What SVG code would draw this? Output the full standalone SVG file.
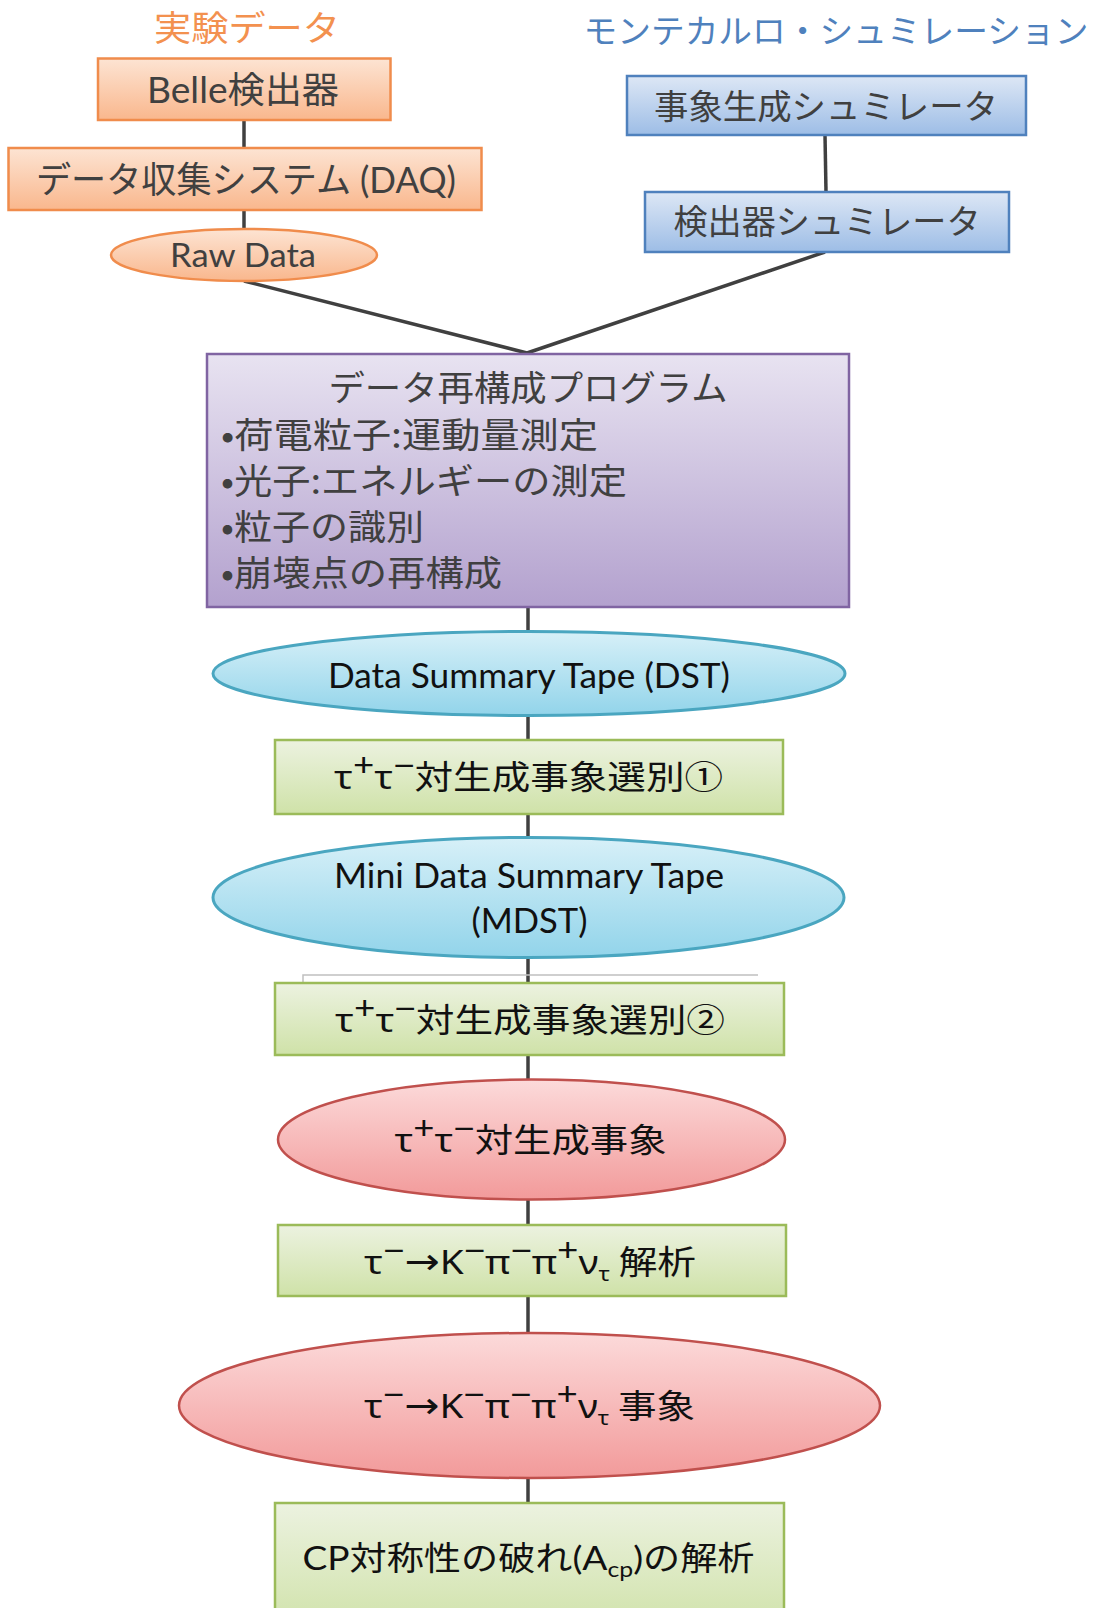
<svg xmlns="http://www.w3.org/2000/svg" width="1099" height="1608" viewBox="0 0 1099 1608">
<style>
.jp{font-family:"Noto Sans CJK JP","Noto Sans",sans-serif;}
.la{font-family:"Lato","Noto Sans CJK JP",sans-serif;}
.gr{font-family:"Noto Sans","DejaVu Sans",sans-serif;}
.ar{font-family:"DejaVu Sans",sans-serif;}
.dk{fill:#404040;}
.bk{fill:#111;}
.mid{text-anchor:middle;}
.conn{stroke:#404040;stroke-width:3.5;fill:none;stroke-linecap:butt;}
.or{fill:url(#gOr);stroke:#f08c4c;stroke-width:2.5;}
.bl{fill:url(#gBl);stroke:#4f81bd;stroke-width:2.5;}
.pu{fill:url(#gPu);stroke:#8064a2;stroke-width:2.5;}
.cy{fill:url(#gCy);stroke:#4aa6c0;stroke-width:3;}
.gn{fill:url(#gGn);stroke:#9bbb59;stroke-width:2.5;}
.pk{fill:url(#gPk);stroke:#c0504d;stroke-width:2.5;}
</style>
<defs>
<linearGradient id="gOr" x1="0" y1="0" x2="0" y2="1"><stop offset="0" stop-color="#fde4d3"/><stop offset="1" stop-color="#f9b78d"/></linearGradient>
<linearGradient id="gBl" x1="0" y1="0" x2="0" y2="1"><stop offset="0" stop-color="#dde7f5"/><stop offset="1" stop-color="#9dbde6"/></linearGradient>
<linearGradient id="gPu" x1="0" y1="0" x2="0" y2="1"><stop offset="0" stop-color="#e8e3f1"/><stop offset="1" stop-color="#b3a1ce"/></linearGradient>
<linearGradient id="gCy" x1="0" y1="0" x2="0" y2="1"><stop offset="0" stop-color="#d7f0f8"/><stop offset="1" stop-color="#92d4ea"/></linearGradient>
<linearGradient id="gGn" x1="0" y1="0" x2="0" y2="1"><stop offset="0" stop-color="#ecf2e0"/><stop offset="1" stop-color="#cfe2a8"/></linearGradient>
<linearGradient id="gPk" x1="0" y1="0" x2="0" y2="1"><stop offset="0" stop-color="#fcdada"/><stop offset="1" stop-color="#f29a9a"/></linearGradient>
</defs>
<rect width="1099" height="1608" fill="#ffffff"/>

<g id="connectors">
<line class="conn" x1="244" y1="120" x2="244" y2="148"/>
<line class="conn" x1="244" y1="210" x2="244" y2="229"/>
<line class="conn" x1="244" y1="281" x2="527" y2="353"/>
<line class="conn" x1="825" y1="135" x2="826" y2="192"/>
<line class="conn" x1="825" y1="252" x2="527" y2="353"/>
<line class="conn" x1="528" y1="607" x2="528" y2="632"/>
<line class="conn" x1="528" y1="715" x2="528" y2="740"/>
<line class="conn" x1="528" y1="814" x2="528" y2="838"/>
<line class="conn" x1="528" y1="957" x2="528" y2="983"/>
<line class="conn" x1="528" y1="1055" x2="528" y2="1080"/>
<line class="conn" x1="528" y1="1199" x2="528" y2="1225"/>
<line class="conn" x1="528" y1="1296" x2="528" y2="1333"/>
<line class="conn" x1="528" y1="1478" x2="528" y2="1503"/>
<polyline points="303,983 303,975 758,975" fill="none" stroke="#c0c0c0" stroke-width="1.5"/>
</g>

<g id="title-exp">
<text class="jp mid" x="247" y="41" font-size="35" fill="#f3914f" textLength="186" lengthAdjust="spacingAndGlyphs">実験データ</text>
</g>
<g id="title-mc">
<text class="jp mid" x="836" y="43" font-size="33" fill="#4f81bd" textLength="505" lengthAdjust="spacingAndGlyphs">モンテカルロ・シュミレーション</text>
</g>

<g id="belle">
<rect class="or" x="98" y="58.5" width="292.5" height="61.5"/>
<text class="la dk mid" x="243" y="103" font-size="36" textLength="192" lengthAdjust="spacingAndGlyphs">Belle検出器</text>
</g>
<g id="daq">
<rect class="or" x="8.5" y="148" width="473" height="62"/>
<text class="la dk mid" x="246" y="193" font-size="36" textLength="420" lengthAdjust="spacingAndGlyphs">データ収集システム (DAQ)</text>
</g>
<g id="rawdata">
<ellipse class="or" cx="244" cy="255" rx="133" ry="26"/>
<text class="la dk mid" x="243" y="267" font-size="32" textLength="146" lengthAdjust="spacingAndGlyphs">Raw Data</text>
</g>

<g id="evgen">
<rect class="bl" x="627" y="76" width="399" height="59"/>
<text class="jp dk mid" x="826" y="118.5" font-size="34" textLength="344" lengthAdjust="spacingAndGlyphs">事象生成シュミレータ</text>
</g>
<g id="detsim">
<rect class="bl" x="645" y="192" width="364" height="60"/>
<text class="jp dk mid" x="827" y="234" font-size="34" textLength="307" lengthAdjust="spacingAndGlyphs">検出器シュミレータ</text>
</g>

<g id="recon">
<rect class="pu" x="207" y="354" width="642" height="253"/>
<text class="jp dk" font-size="35"><tspan x="528" y="401" text-anchor="middle" textLength="399" lengthAdjust="spacingAndGlyphs">データ再構成プログラム</tspan><tspan x="221" y="448" textLength="377" lengthAdjust="spacingAndGlyphs">•荷電粒子:運動量測定</tspan><tspan x="221" y="494" textLength="406" lengthAdjust="spacingAndGlyphs">•光子:エネルギーの測定</tspan><tspan x="221" y="540" textLength="203" lengthAdjust="spacingAndGlyphs">•粒子の識別</tspan><tspan x="221" y="586" textLength="281" lengthAdjust="spacingAndGlyphs">•崩壊点の再構成</tspan></text>
</g>

<g id="dst">
<ellipse class="cy" cx="529" cy="673.5" rx="316" ry="42"/>
<text class="la bk mid" x="529" y="688" font-size="34" textLength="402" lengthAdjust="spacingAndGlyphs">Data Summary Tape (DST)</text>
</g>

<g id="sel1">
<rect class="gn" x="275" y="740" width="508" height="74"/>
<text class="jp bk mid" x="528.5" y="789" font-size="33" textLength="389" lengthAdjust="spacingAndGlyphs"><tspan class="gr">τ</tspan><tspan class="gr" font-size="32" dy="-12">+</tspan><tspan class="gr" dy="12">τ</tspan><tspan class="gr" font-size="32" dy="-12">−</tspan><tspan dy="12">対生成事象選別①</tspan></text>
</g>

<g id="mdst">
<ellipse class="cy" cx="528.5" cy="897.5" rx="315.5" ry="60"/>
<text class="la bk mid" x="529" y="888" font-size="34" textLength="390" lengthAdjust="spacingAndGlyphs">Mini Data Summary Tape</text>
<text class="la bk mid" x="529.5" y="933" font-size="34" textLength="116" lengthAdjust="spacingAndGlyphs">(MDST)</text>
</g>

<g id="sel2">
<rect class="gn" x="275" y="983" width="509" height="72"/>
<text class="jp bk mid" x="530" y="1032" font-size="33" textLength="390" lengthAdjust="spacingAndGlyphs"><tspan class="gr">τ</tspan><tspan class="gr" font-size="32" dy="-12">+</tspan><tspan class="gr" dy="12">τ</tspan><tspan class="gr" font-size="32" dy="-12">−</tspan><tspan dy="12">対生成事象選別②</tspan></text>
</g>

<g id="tautau">
<ellipse class="pk" cx="531.5" cy="1139.5" rx="253.5" ry="60"/>
<text class="jp bk mid" x="530.5" y="1152" font-size="33" textLength="272" lengthAdjust="spacingAndGlyphs"><tspan class="gr">τ</tspan><tspan class="gr" font-size="32" dy="-12">+</tspan><tspan class="gr" dy="12">τ</tspan><tspan class="gr" font-size="32" dy="-12">−</tspan><tspan dy="12">対生成事象</tspan></text>
</g>

<g id="kpp-ana">
<rect class="gn" x="278" y="1225" width="508" height="71"/>
<text class="jp bk mid" x="530" y="1274" font-size="33" textLength="332" lengthAdjust="spacingAndGlyphs"><tspan class="gr">τ</tspan><tspan class="gr" font-size="32" dy="-12">−</tspan><tspan class="ar" font-size="36" dy="12">→</tspan><tspan class="gr">K</tspan><tspan class="gr" font-size="32" dy="-12">−</tspan><tspan class="gr" dy="12">π</tspan><tspan class="gr" font-size="32" dy="-12">−</tspan><tspan class="gr" dy="12">π</tspan><tspan class="gr" font-size="32" dy="-12">+</tspan><tspan class="gr" dy="12">ν</tspan><tspan class="gr" font-size="20" dy="7">τ</tspan><tspan dy="-7"> 解析</tspan></text>
</g>

<g id="kpp-ev">
<ellipse class="pk" cx="529.5" cy="1405.5" rx="350.5" ry="72.5"/>
<text class="jp bk mid" x="529.5" y="1418" font-size="33" textLength="331" lengthAdjust="spacingAndGlyphs"><tspan class="gr">τ</tspan><tspan class="gr" font-size="32" dy="-12">−</tspan><tspan class="ar" font-size="36" dy="12">→</tspan><tspan class="gr">K</tspan><tspan class="gr" font-size="32" dy="-12">−</tspan><tspan class="gr" dy="12">π</tspan><tspan class="gr" font-size="32" dy="-12">−</tspan><tspan class="gr" dy="12">π</tspan><tspan class="gr" font-size="32" dy="-12">+</tspan><tspan class="gr" dy="12">ν</tspan><tspan class="gr" font-size="20" dy="7">τ</tspan><tspan dy="-7"> 事象</tspan></text>
</g>

<g id="cp">
<rect class="gn" x="275" y="1503" width="509" height="130"/>
<text class="jp bk mid" x="528.5" y="1570" font-size="33" textLength="452" lengthAdjust="spacingAndGlyphs"><tspan class="la">CP</tspan>対称性の破れ<tspan class="la">(A</tspan><tspan class="la" font-size="22" dy="7">cp</tspan><tspan class="la" dy="-7">)</tspan>の解析</text>
</g>
</svg>
